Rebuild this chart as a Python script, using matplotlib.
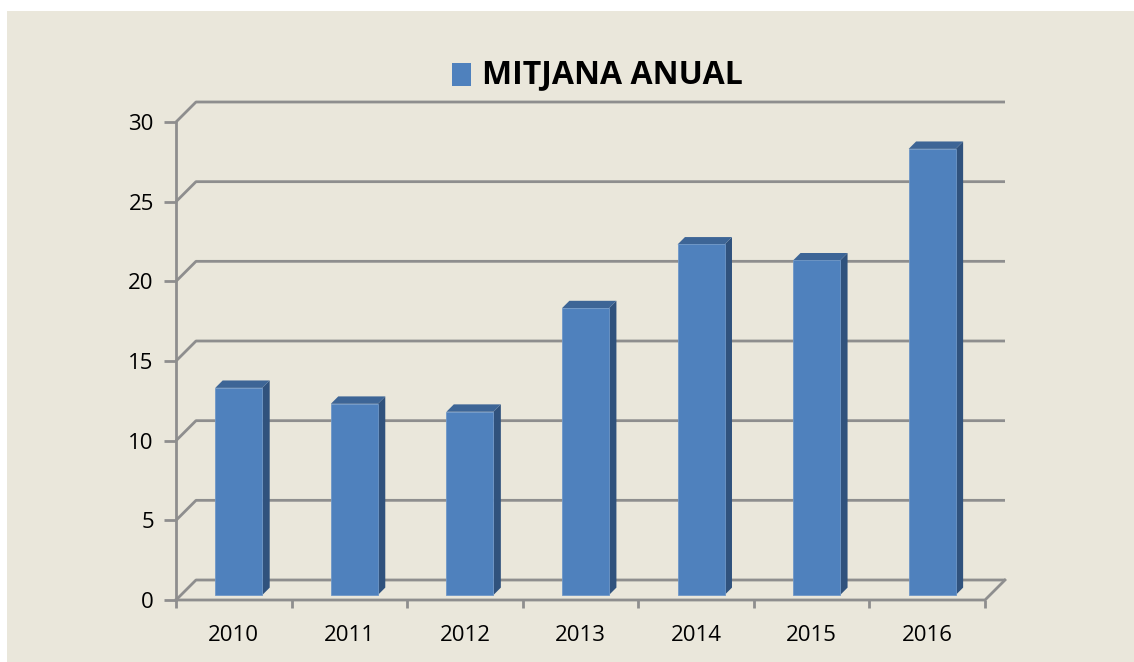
import matplotlib.pyplot as plt
from matplotlib.patches import Polygon, Rectangle

# data
years = ['2010', '2011', '2012', '2013', '2014', '2015', '2016']
mitjana = [13, 12, 11.5, 18, 22, 21, 28]
yticks = [0, 5, 10, 15, 20, 25, 30]

bg = '#EAE7DB'
grid_col = '#8E8E8E'
front = '#4F81BD'
side = '#30527D'
top = '#3D6596'

fig = plt.figure(figsize=(11.34, 6.62), dpi=100, facecolor='white')
# chart area (thin white margin at top and left like the original)
fig.patches.append(Rectangle((7 / 1134, 0), 1, 1 - 11 / 662, transform=fig.transFigure,
                             facecolor=bg, edgecolor='none', zorder=-10))

ax = fig.add_axes([176 / 1134, 62 / 662, 809 / 1134, 478 / 662])
ax.set_facecolor('none')
ax.set_xlim(-0.5, len(years) - 0.5)
ax.set_ylim(0, 30)
for s in ax.spines.values():
    s.set_visible(False)

# depth of the 3d box in data units (about 20 px right and up)
ddx = 20 * 7 / 809
ddy = 20 * 30 / 478
x0, x1 = -0.5, len(years) - 0.5

# back wall gridlines + left wall diagonals
for t in yticks:
    ax.plot([x0, x0 + ddx, x1 + ddx], [t, t + ddy, t + ddy],
            color=grid_col, lw=2, clip_on=False, zorder=1, solid_capstyle='butt')
# floor: front edge and right diagonal
ax.plot([x0, x1, x1 + ddx], [0, 0, ddy], color=grid_col, lw=2, clip_on=False, zorder=1)
# front vertical axis
ax.plot([x0, x0], [0, 30], color=grid_col, lw=2, clip_on=False, zorder=1)

# bars: front face at 25% depth, bar depth 35%
bw = 0.407
d0, d1 = 0.25, 0.62
for i, v in enumerate(mitjana):
    xl = i - bw / 2 + d0 * ddx
    xr = xl + bw
    yb = d0 * ddy
    yt = v + d0 * ddy
    ox, oy = (d1 - d0) * ddx, (d1 - d0) * ddy
    ax.add_patch(Polygon([(xr, yb), (xr + ox, yb + oy), (xr + ox, yt + oy), (xr, yt)],
                         closed=True, facecolor=side, edgecolor='none', zorder=3))
    ax.add_patch(Polygon([(xl, yt), (xr, yt), (xr + ox, yt + oy), (xl + ox, yt + oy)],
                         closed=True, facecolor=top, edgecolor='none', zorder=3))
    ax.add_patch(Rectangle((xl, yb), bw, v, facecolor=front,
                           edgecolor='#6E97C8', lw=0.6, zorder=4))

# ticks
ax.set_yticks(yticks)
ax.set_yticklabels([str(t) for t in yticks], fontsize=16, family='Open Sans')
ax.tick_params(axis='y', length=9, width=2, color=grid_col, pad=7)
ax.set_xticks([x0 + k for k in range(len(years) + 1)])
ax.set_xticklabels([])
ax.tick_params(axis='x', length=6, width=2, color=grid_col)
for i, yr in enumerate(years):
    ax.text(i, -2.2, yr, ha='center', va='center', fontsize=16, family='Open Sans')

# legend
fig.patches.append(Rectangle((452 / 1134, 1 - 86 / 662), 19 / 1134, 23 / 662,
                             transform=fig.transFigure, facecolor=front, edgecolor='none'))
fig.text(482 / 1134, 1 - 75 / 662, 'MITJANA ANUAL', fontsize=23, fontweight='bold',
         family='Open Sans', va='center', ha='left')

fig.savefig('out.png', dpi=100, facecolor='white')
